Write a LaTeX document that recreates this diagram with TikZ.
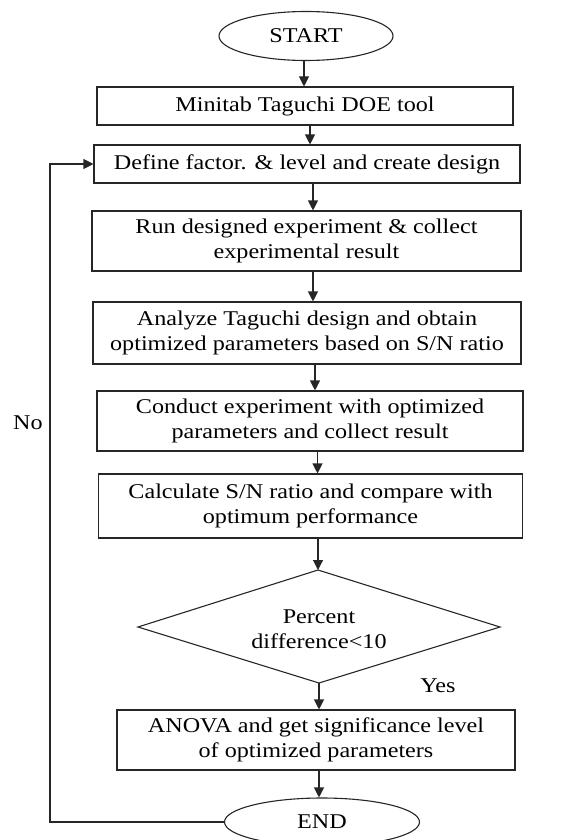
\documentclass[tikz,border=0pt]{standalone}
\usepackage{fontspec}
\setmainfont{Liberation Serif}[FakeStretch=1.15]
\usetikzlibrary{shapes.geometric,arrows.meta}
\begin{document}
\begin{tikzpicture}[x=1pt,y=-1pt,
  every node/.style={font=\fontsize{21}{25}\selectfont, text=black},
  box/.style={draw=black!85, line width=1.1pt, align=center, inner sep=0pt},
  term/.style={draw=black!85, ellipse, line width=1.1pt, inner sep=0pt},
  decline/.style={draw=black!85, line width=1.1pt, line join=miter},
  arr/.style={draw=black!85, line width=1.1pt, -{Triangle[length=10pt,width=10pt]}},
  lbl/.style={inner sep=0pt, align=center}]
\useasboundingbox (0,0) rectangle (565,840);

\node[term, minimum width=174pt, minimum height=49pt] (start) at (306,36) {START};
\node[box, minimum width=416pt, minimum height=38pt] (mini) at (305,106) {Minitab Taguchi DOE tool};
\node[box, minimum width=426pt, minimum height=38pt] (define) at (307,164) {Define factor. \& level and create design};
\node[box, minimum width=429pt, minimum height=60pt] (run) at (306.5,241) {Run designed experiment \& collect\\experimental result};
\node[box, minimum width=428pt, minimum height=62pt] (analyze) at (307,333) {Analyze Taguchi design and obtain\\optimized parameters based on S/N ratio};
\node[box, minimum width=426pt, minimum height=60pt] (conduct) at (310,421) {Conduct experiment with optimized\\parameters and collect result};
\node[box, minimum width=424pt, minimum height=64pt] (calc) at (310.5,506) {Calculate S/N ratio and compare with\\optimum performance};

\coordinate (dtop) at (318,570);
\coordinate (dleft) at (138,627);
\coordinate (dright) at (500,627);
\coordinate (dbot) at (319,683);
\draw[decline] (dtop) -- (dright) -- (dbot) -- (dleft) -- cycle;
\node[lbl] (dec) at (319,629) {Percent\\difference<10};

\node[box, minimum width=398pt, minimum height=60pt] (anova) at (316,740) {ANOVA and get significance level\\of optimized parameters};
\node[term, minimum width=195pt, minimum height=48pt] (end) at (322,822) {END};

\node[lbl] (no) at (28,423) {No};
\node[lbl] (yes) at (438,686) {Yes};

\draw[arr] ([xshift=-2pt]start.south) -- ([xshift=-2pt]start.south |- mini.north);
\draw[arr] ([xshift=5pt]mini.south) -- ([xshift=5pt]mini.south |- define.north);
\draw[arr] ([xshift=6pt]define.south) -- ([xshift=6pt]define.south |- run.north);
\draw[arr] ([xshift=6.5pt]run.south) -- ([xshift=6.5pt]run.south |- analyze.north);
\draw[arr] ([xshift=8pt]analyze.south) -- ([xshift=8pt]analyze.south |- conduct.north);
\draw[arr] ([xshift=7.5pt]conduct.south) -- ([xshift=7.5pt]conduct.south |- calc.north);
\draw[arr] (calc.south -| dtop) -- (dtop);
\draw[arr] (dbot) -- (dbot |- anova.north);
\draw[arr] ([xshift=3pt]anova.south) -- ([xshift=3pt]anova.south |- end.north);

\coordinate (fb) at (50,0);
\draw[arr] (end.west) -| (fb |- define.west) -- (define.west);
\end{tikzpicture}
\end{document}
